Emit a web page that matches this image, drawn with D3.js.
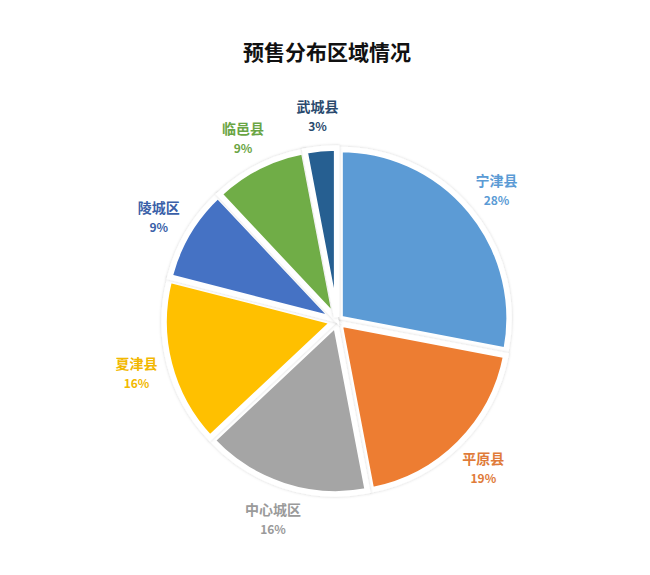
<!DOCTYPE html>
<html>
<head>
<meta charset="utf-8">
<script src="https://cdn.jsdelivr.net/npm/d3@7"></script>
<style>
  html, body { margin: 0; padding: 0; background: #fff; }
  svg { display: block; font-family: "Noto Sans CJK SC", "Noto Sans", sans-serif; }
</style>
</head>
<body>
<div id="chart"></div>
<script>
const title = "预售分布区域情况";
const categories = ["宁津县", "平原县", "中心城区", "夏津县", "陵城区", "临邑县", "武城县"];
const values = [28, 19, 16, 16, 9, 9, 3];
const sliceColors = ["#5B9BD5", "#ED7D31", "#A5A5A5", "#FFC000", "#4472C4", "#70AD47", "#255E91"];
const labelColors = ["#5B9BD5", "#E07B39", "#9A9A9A", "#F2B800", "#3A5FA8", "#6AA544", "#2A4A6E"];

const W = 650, H = 575;
const cx = 337, cy = 321, R = 169, explode = 4, labelR = 207;

const svg = d3.select("#chart").append("svg").attr("width", W).attr("height", H);

const defs = svg.append("defs");
const f = defs.append("filter").attr("id", "sh").attr("x", "-20%").attr("y", "-20%").attr("width", "140%").attr("height", "140%");
f.append("feDropShadow").attr("dx", 0).attr("dy", 0).attr("stdDeviation", 1.5).attr("flood-color", "#000").attr("flood-opacity", 0.18);

svg.append("text")
  .attr("x", 327).attr("y", 60)
  .attr("text-anchor", "middle")
  .attr("font-size", 21).attr("font-weight", "bold").attr("fill", "#111")
  .text(title);

const data = categories.map((c, i) => ({ name: c, value: values[i], color: sliceColors[i], lc: labelColors[i] }));

const pie = d3.pie().value(d => d.value).sort(null).startAngle(0).endAngle(2 * Math.PI);
const arcs = pie(data);
const arc = d3.arc().innerRadius(0).outerRadius(R);

const g = svg.append("g").attr("transform", `translate(${cx},${cy})`);

g.selectAll("path.slice").data(arcs).join("path")
  .attr("class", "slice")
  .attr("d", arc)
  .attr("fill", d => d.data.color)
  .attr("stroke", "#fff")
  .attr("stroke-width", 5.5)
  .attr("stroke-linejoin", "miter")
  .attr("filter", "url(#sh)")
  .attr("transform", d => {
    const a = (d.startAngle + d.endAngle) / 2;
    return `translate(${explode * Math.sin(a)},${-explode * Math.cos(a)})`;
  });

const lab = g.selectAll("g.lab").data(arcs).join("g")
  .attr("class", "lab")
  .attr("transform", d => {
    const a = (d.startAngle + d.endAngle) / 2;
    return `translate(${labelR * Math.sin(a)},${-labelR * Math.cos(a)})`;
  });

lab.append("text")
  .attr("text-anchor", "middle")
  .attr("y", -3)
  .attr("font-size", 14).attr("font-weight", "bold")
  .attr("fill", d => d.data.lc)
  .text(d => d.data.name);

lab.append("text")
  .attr("text-anchor", "middle")
  .attr("y", 16)
  .attr("font-size", 12).attr("font-weight", "bold")
  .attr("fill", d => d.data.lc)
  .text(d => d.data.value + "%");
</script>
</body>
</html>
